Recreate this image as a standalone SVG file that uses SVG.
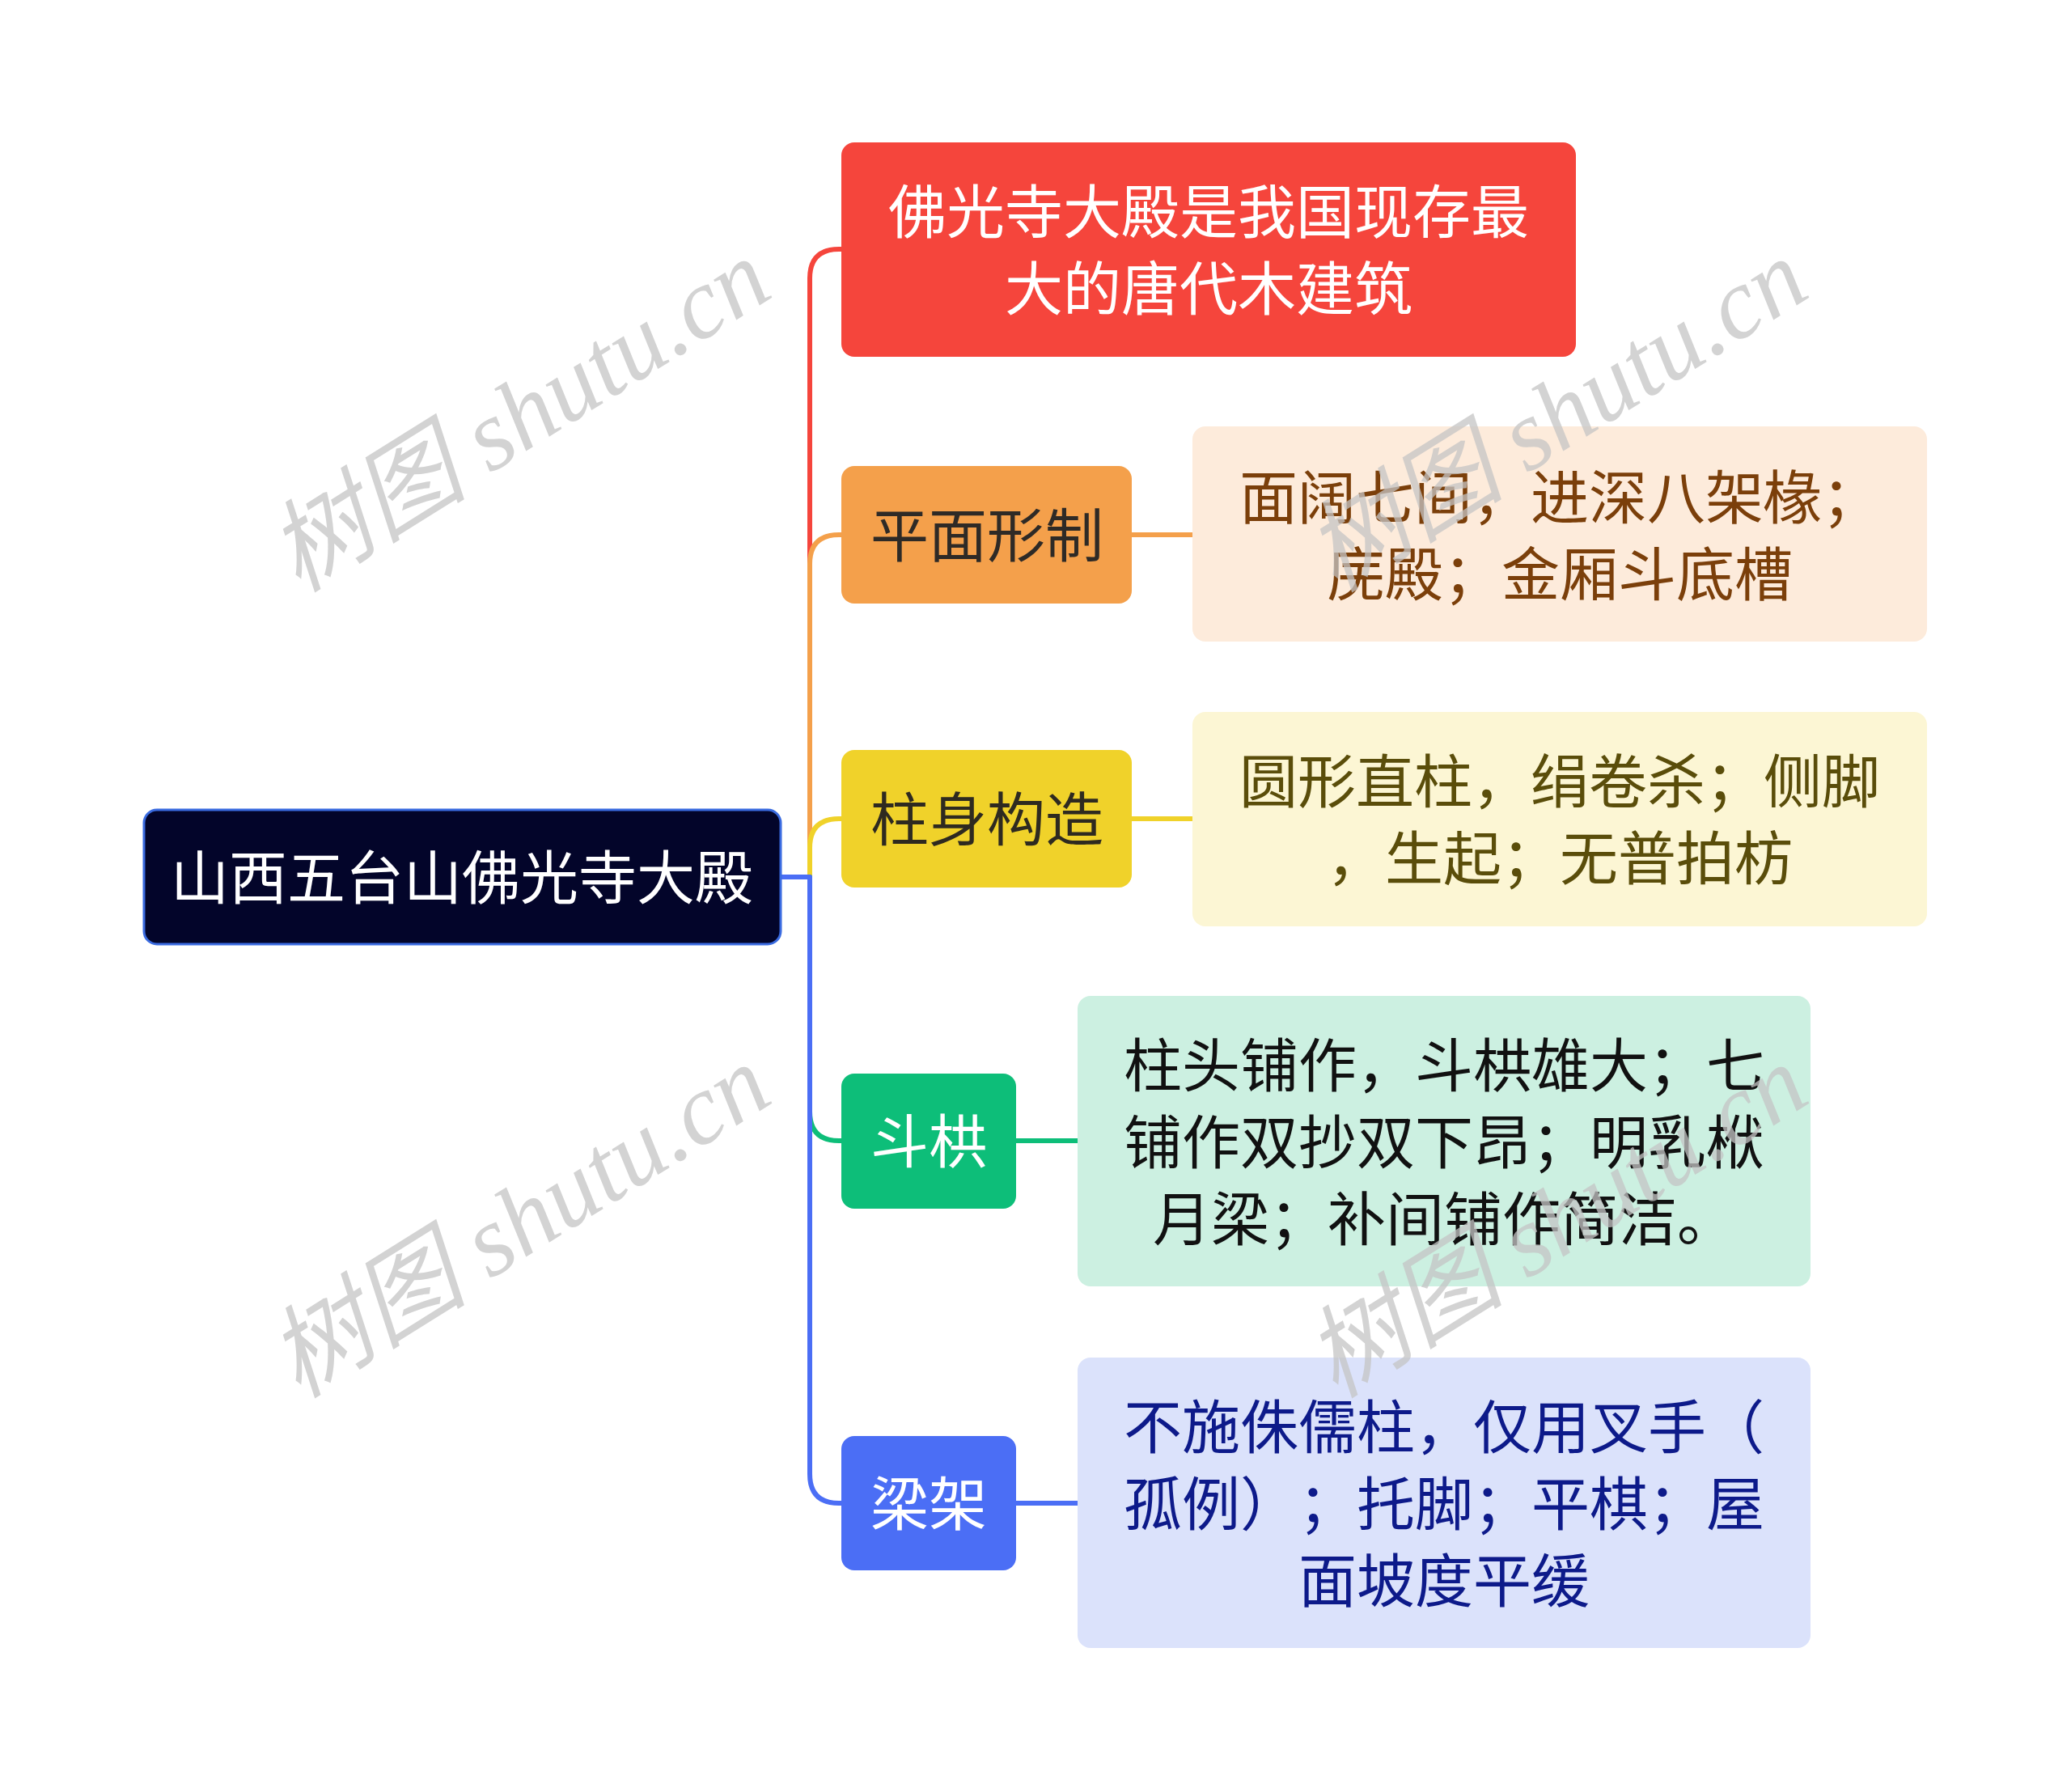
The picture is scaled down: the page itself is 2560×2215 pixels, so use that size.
<svg xmlns="http://www.w3.org/2000/svg" width="2560" height="2215" viewBox="0 0 2560 2215">
<style>
.t{font-family:"Noto Sans CJK SC","Noto Sans",sans-serif;font-size:72px;text-anchor:middle;dominant-baseline:central;text-spacing-trim:space-all}
.w{fill:#ffffff}
.c{fill:none;stroke-width:6;stroke-linecap:round;stroke-linejoin:round}
.wm{font-family:"Liberation Serif","Noto Sans CJK SC",serif;font-style:italic;font-size:124px;fill:#c4c4c4;fill-opacity:0.75;text-anchor:middle;dominant-baseline:central}
</style>
<rect width="2560" height="2215" fill="#ffffff"/>
<g id="connectors">
<path class="c" stroke="#F5453C" d="M965 1084 H1001 V344 Q1001 308 1037 308 H1040"/>
<path class="c" stroke="#F4A04B" d="M965 1084 H1001 V697 Q1001 661 1037 661 H1040"/>
<path class="c" stroke="#F0D22A" d="M965 1084 H1001 V1048 Q1001 1012 1037 1012 H1040"/>
<path class="c" stroke="#0DBE79" d="M965 1084 H1001 V1374 Q1001 1410 1037 1410 H1040"/>
<path class="c" stroke="#4B6EF5" d="M965 1084 H1001 V1822 Q1001 1858 1037 1858 H1040"/>
<path class="c" stroke="#F4A04B" d="M1399 661 H1474"/>
<path class="c" stroke="#F0D22A" d="M1399 1012 H1474"/>
<path class="c" stroke="#0DBE79" d="M1256 1410 H1332"/>
<path class="c" stroke="#4B6EF5" d="M1256 1858 H1332"/>
</g>
<g id="root">
<rect x="178" y="1001" width="787" height="166" rx="16" fill="#03052A" stroke="#3A6BE0" stroke-width="3"/>
<text class="t w" x="571" y="1079">山西五台山佛光寺大殿</text>
</g>
<g id="n1">
<rect x="1040" y="176" width="908" height="265" rx="16" fill="#F5453C"/>
<text class="t w" x="1494" y="256">佛光寺大殿是我国现存最</text>
<text class="t w" x="1494" y="351">大的唐代木建筑</text>
</g>
<g id="n2">
<rect x="1040" y="576" width="359" height="170" rx="16" fill="#F4A04B"/>
<text class="t" x="1220" y="656" fill="#2E2A26">平面形制</text>
</g>
<g id="n2d">
<rect x="1474" y="527" width="908" height="266" rx="16" fill="#FDEBDB"/>
<text class="t" x="1928" y="609" fill="#7B3F0A">面阔七间，进深八架椽；</text>
<text class="t" x="1928" y="704" fill="#7B3F0A">庑殿；金厢斗底槽</text>
</g>
<g id="n3">
<rect x="1040" y="927" width="359" height="170" rx="16" fill="#F0D22A"/>
<text class="t" x="1220" y="1007" fill="#2E2A20">柱身构造</text>
</g>
<g id="n3d">
<rect x="1474" y="880" width="908" height="265" rx="16" fill="#FCF6D4"/>
<text class="t" x="1928" y="960" fill="#5A4D0A">圆形直柱，绢卷杀；侧脚</text>
<text class="t" x="1928" y="1055" fill="#5A4D0A">，生起；无普拍枋</text>
</g>
<g id="n4">
<rect x="1040" y="1327" width="216" height="167" rx="16" fill="#0DBE79"/>
<text class="t w" x="1148" y="1405">斗栱</text>
</g>
<g id="n4d">
<rect x="1332" y="1231" width="906" height="359" rx="16" fill="#CCF0E1"/>
<text class="t" x="1785" y="1311" fill="#111111">柱头铺作，斗栱雄大；七</text>
<text class="t" x="1785" y="1406" fill="#111111">铺作双抄双下昂；明乳栿</text>
<text class="t" x="1785" y="1501" fill="#111111">月梁；补间铺作简洁。</text>
</g>
<g id="n5">
<rect x="1040" y="1775" width="216" height="166" rx="16" fill="#4B6EF5"/>
<text class="t w" x="1148" y="1853">梁架</text>
</g>
<g id="n5d">
<rect x="1332" y="1678" width="906" height="359" rx="16" fill="#DBE2FB"/>
<text class="t" x="1785" y="1758" fill="#0D1A8A">不施侏儒柱，仅用叉手（</text>
<text class="t" x="1785" y="1853" fill="#0D1A8A">孤例）；托脚；平棋；屋</text>
<text class="t" x="1785" y="1948" fill="#0D1A8A">面坡度平缓</text>
</g>
<g id="watermarks">
<text class="wm" transform="translate(642 514) rotate(-32)">树图 shutu.cn</text>
<text class="wm" transform="translate(1924 514) rotate(-32)">树图 shutu.cn</text>
<text class="wm" transform="translate(642 1510) rotate(-32)">树图 shutu.cn</text>
<text class="wm" transform="translate(1924 1510) rotate(-32)">树图 shutu.cn</text>
</g>
</svg>
